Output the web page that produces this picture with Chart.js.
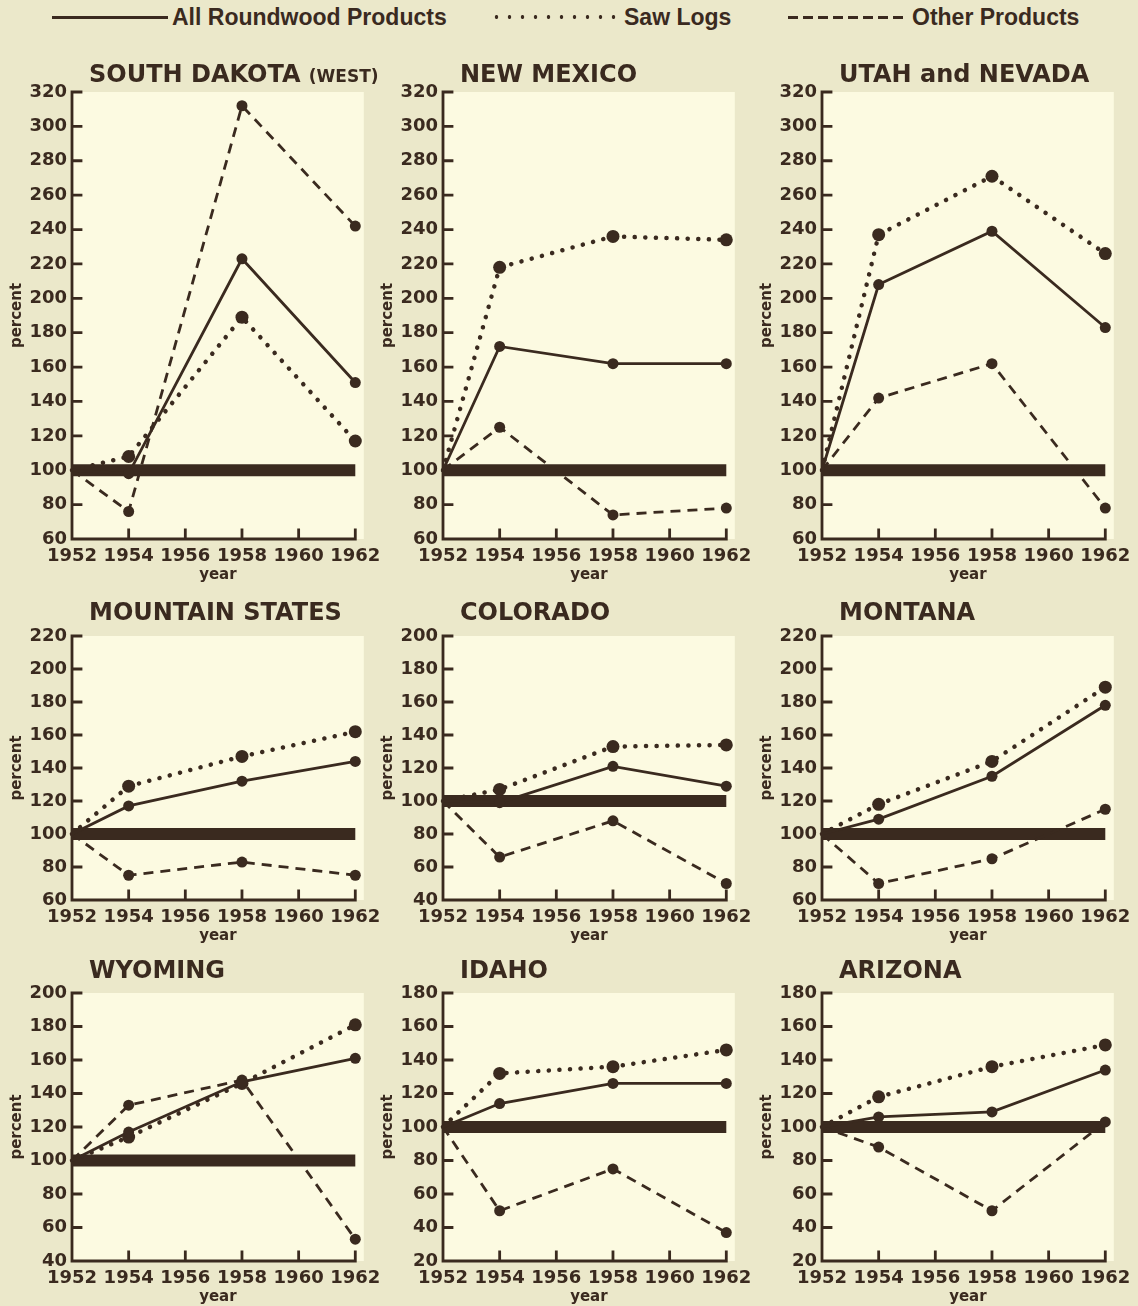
<!DOCTYPE html>
<html>
<head>
<meta charset="utf-8">
<script src="https://cdn.jsdelivr.net/npm/chart.js@4.4.1/dist/chart.umd.min.js"></script>
<style>
  body { margin: 0; width: 1138px; height: 1306px; overflow: hidden; position: relative; background: #ebe8ca; }
  .panel { position: absolute; }
  .lg-line { position: absolute; top: 15px; height: 4px; }
  .lg-text { position: absolute; top: 3px; font: bold 23px "Liberation Sans", Arial, sans-serif; color: #3a2a1f; line-height: 28px; white-space: nowrap; }
</style>
</head>
<body>
<div class="lg-line" style="left:52px;width:116px;height:3px;top:16px;background:#3a2a1f"></div>
<div class="lg-text" style="left:172px">All Roundwood Products</div>
<div class="lg-line" style="left:490px;width:130px;height:6px;top:14px;background:radial-gradient(circle, #3a2a1f 1.6px, transparent 2.1px) 0 0 / 13px 6px repeat-x"></div>
<div class="lg-text" style="left:624px">Saw Logs</div>
<div class="lg-line" style="left:788px;width:120px;height:3px;top:16px;background:repeating-linear-gradient(to right, #3a2a1f 0 10px, transparent 10px 15px)"></div>
<div class="lg-text" style="left:912px">Other Products</div>

<script>
// years with observations, and the tick years on the x axis
var years = [1952, 1954, 1958, 1962];
var tickYears = [1952, 1954, 1956, 1958, 1960, 1962];

var states = ["SOUTH DAKOTA", "NEW MEXICO", "UTAH and NEVADA",
              "MOUNTAIN STATES", "COLORADO", "MONTANA",
              "WYOMING", "IDAHO", "ARIZONA"];
var stateNotes = ["(WEST)", "", "", "", "", "", "", "", ""];

// percent of 1952 level
var roundwood = [
  [100, 98, 223, 151], [100, 172, 162, 162], [100, 208, 239, 183],
  [100, 117, 132, 144], [100, 99, 121, 109], [100, 109, 135, 178],
  [100, 117, 147, 161], [100, 114, 126, 126], [100, 106, 109, 134]
];
var sawLogs = [
  [100, 108, 189, 117], [100, 218, 236, 234], [100, 237, 271, 226],
  [100, 129, 147, 162], [100, 107, 133, 134], [100, 118, 144, 189],
  [100, 114, 146, 181], [100, 132, 136, 146], [100, 118, 136, 149]
];
var otherProducts = [
  [100, 76, 312, 242], [100, 125, 74, 78], [100, 142, 162, 78],
  [100, 75, 83, 75], [100, 66, 88, 50], [100, 70, 85, 115],
  [100, 133, 148, 53], [100, 50, 75, 37], [100, 88, 50, 103]
];
var yMin = [60, 60, 60, 60, 40, 60, 40, 20, 20];
var yMax = [320, 320, 320, 220, 200, 220, 200, 180, 180];
var baseLevel = 100;

var ink = '#3a2a1f';
var paper = '#fcfae1';

Chart.defaults.font.family = "'DejaVu Sans', sans-serif";
Chart.defaults.font.weight = 'bold';
Chart.defaults.color = ink;

// layout of the grid (pixel position of the y axis and of the plot top / x axis)
var colAxis = [72, 443, 822];
var rowTop = [92, 636, 993];
var rowAxis = [539, 900, 1261];
var titleLift = [10, 16, 15];
var yAxisWidth = 72, xAxisHeight = 47, padTop = 42, canvasWidth = 388, plotWidth = 293.5;

var panelBackground = {
  id: 'panelBackground',
  beforeDraw: function (chart) {
    var a = chart.chartArea, ctx = chart.ctx;
    ctx.save();
    ctx.fillStyle = paper;
    ctx.fillRect(a.left, a.top, a.right - a.left, a.bottom - a.top);
    ctx.restore();
  }
};

// axis lines with the short tick marks pointing inward
var axisFrame = {
  id: 'axisFrame',
  beforeDatasetsDraw: function (chart) {
    var a = chart.chartArea, ctx = chart.ctx, x = chart.scales.x, y = chart.scales.y;
    ctx.save();
    ctx.strokeStyle = ink;
    ctx.lineWidth = 2.8;
    ctx.lineCap = 'square';
    ctx.beginPath();
    ctx.moveTo(a.left, a.top);
    ctx.lineTo(a.left, a.bottom);
    ctx.lineTo(x.getPixelForValue(1962), a.bottom);
    y.ticks.forEach(function (t) {
      if (t.value === y.min) return;
      var py = y.getPixelForValue(t.value);
      ctx.moveTo(a.left, py);
      ctx.lineTo(a.left + 9, py);
    });
    x.ticks.forEach(function (t) {
      if (t.value === x.min) return;
      var px = x.getPixelForValue(t.value);
      ctx.moveTo(px, a.bottom);
      ctx.lineTo(px, a.bottom - 9);
    });
    ctx.stroke();
    ctx.restore();
  }
};

var panelTitle = {
  id: 'panelTitle',
  afterDraw: function (chart, args, opts) {
    var a = chart.chartArea, ctx = chart.ctx;
    ctx.save();
    ctx.fillStyle = ink;
    ctx.textBaseline = 'alphabetic';
    ctx.font = "bold 24px 'DejaVu Sans'";
    var x = a.left + 17, yb = a.top - opts.lift;
    ctx.fillText(opts.text, x, yb);
    if (opts.note) {
      x += ctx.measureText(opts.text + ' ').width;
      ctx.font = "bold 17px 'DejaVu Sans'";
      ctx.fillText(opts.note, x, yb);
    }
    ctx.restore();
  }
};

function points(values) {
  return years.map(function (yr, j) { return { x: yr, y: values[j] }; });
}

states.forEach(function (name, i) {
  var col = i % 3, row = Math.floor(i / 3);
  var div = document.createElement('div');
  div.className = 'panel';
  var h = rowAxis[row] - rowTop[row] + padTop + xAxisHeight;
  div.style.left = (colAxis[col] - yAxisWidth) + 'px';
  div.style.top = (rowTop[row] - padTop) + 'px';
  var canvas = document.createElement('canvas');
  canvas.width = canvasWidth;
  canvas.height = h;
  div.appendChild(canvas);
  document.body.appendChild(div);

  new Chart(canvas, {
    type: 'line',
    data: {
      datasets: [{
        label: 'All Roundwood Products',
        data: points(roundwood[i]),
        borderColor: ink, backgroundColor: ink,
        borderWidth: 2.8,
        pointRadius: [0, 5.5, 5.5, 5.5], pointBorderWidth: 0,
        clip: false
      }, {
        label: 'Saw Logs',
        data: points(sawLogs[i]),
        borderColor: ink, backgroundColor: ink,
        borderWidth: 4.5, borderDash: [0.1, 10.5], borderCapStyle: 'round',
        pointRadius: [0, 6.5, 6.5, 6.5], pointBorderWidth: 0,
        clip: false
      }, {
        label: 'Other Products',
        data: points(otherProducts[i]),
        borderColor: ink, backgroundColor: ink,
        borderWidth: 2.8, borderDash: [10, 7],
        pointRadius: [0, 5.5, 5.5, 5.5], pointBorderWidth: 0,
        clip: false
      }, {
        label: 'base',
        data: [{ x: 1952, y: baseLevel }, { x: 1962, y: baseLevel }],
        borderColor: ink, borderWidth: 12, pointRadius: 0,
        clip: false
      }]
    },
    options: {
      responsive: false,
      animation: false,
      devicePixelRatio: 1,
      layout: { padding: { top: padTop, right: canvasWidth - yAxisWidth - plotWidth, bottom: 0, left: 0 } },
      plugins: {
        legend: { display: false },
        tooltip: { enabled: false },
        panelTitle: { text: name, note: stateNotes[i], lift: titleLift[row] }
      },
      scales: {
        x: {
          type: 'linear', min: 1952, max: 1962.3,
          grid: { display: false, drawTicks: false },
          border: { display: false },
          afterBuildTicks: function (s) { s.ticks = tickYears.map(function (v) { return { value: v }; }); },
          afterFit: function (s) { s.height = xAxisHeight; },
          ticks: { font: { size: 18 }, padding: 7, autoSkip: false, maxRotation: 0,
                   callback: function (v) { return String(v); } },
          title: { display: true, text: 'year', font: { size: 15 }, padding: { top: 0, bottom: 2 } }
        },
        y: {
          min: yMin[i], max: yMax[i],
          grid: { display: false, drawTicks: false },
          border: { display: false },
          afterFit: function (s) { s.width = yAxisWidth; },
          ticks: { stepSize: 20, font: { size: 18 }, padding: 5, autoSkip: false },
          title: { display: true, text: 'percent', font: { size: 15 }, padding: { top: 8, bottom: 0 } }
        }
      }
    },
    plugins: [panelBackground, axisFrame, panelTitle]
  });
});
</script>
</body>
</html>
